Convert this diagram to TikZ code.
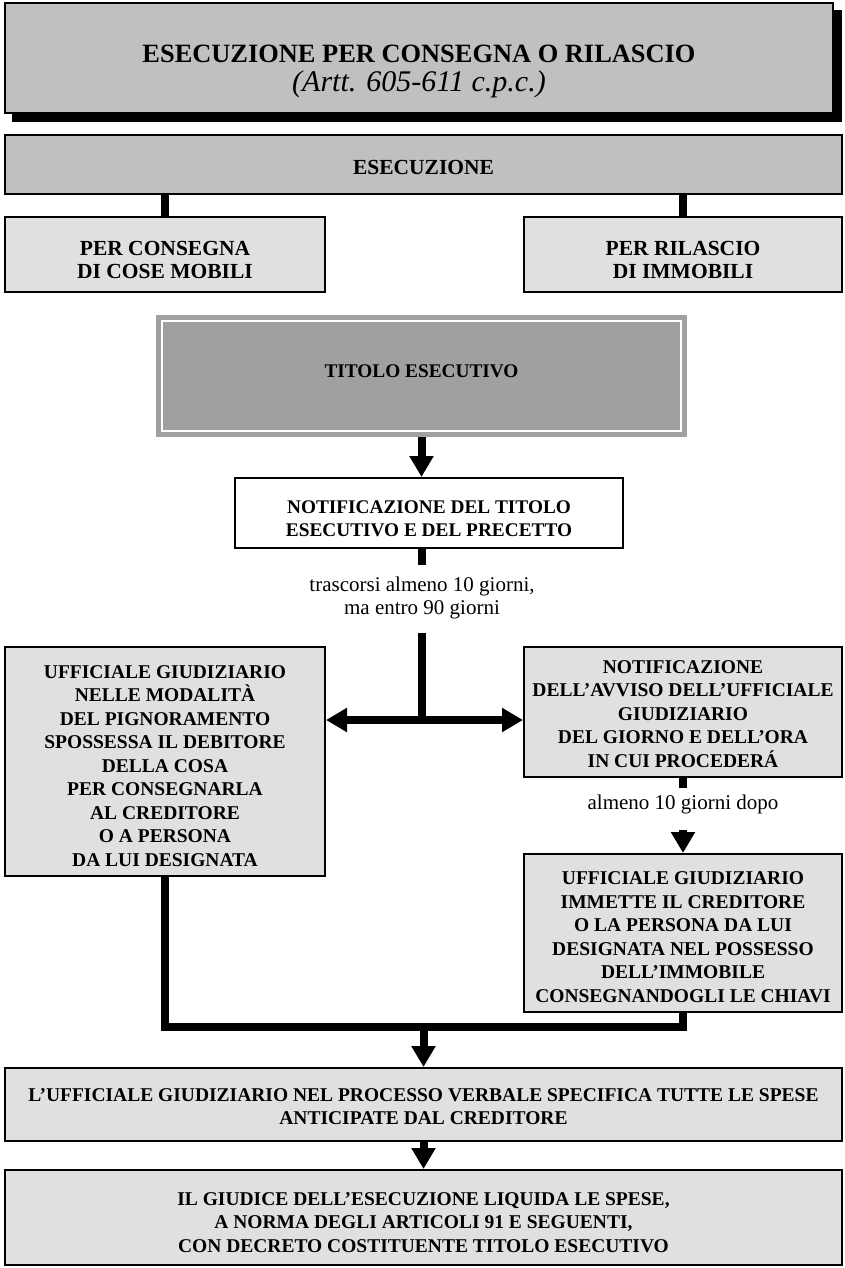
\documentclass[tikz,border=0pt]{standalone}
\usepackage{fontspec}
\setmainfont{Liberation Serif}
\usetikzlibrary{arrows.meta,backgrounds}
\definecolor{gC}{HTML}{C0C0C0}
\definecolor{gL}{HTML}{E0E0E0}
\definecolor{gT}{HTML}{A0A0A0}
\newcommand\myfttitle{\fontsize{26.4}{27}\selectfont}
\newcommand\myftbig{\fontsize{21.5}{22.5}\selectfont\bfseries}
\newcommand\myftmid{\fontsize{19.3}{23}\selectfont\bfseries}
\newcommand\myftbody{\fontsize{19.5}{23.5}\selectfont\bfseries}
\newcommand\myftnote{\fontsize{21}{23.5}\selectfont}
% #1 extra height on top, #2 extra depth at bottom, #3 lines
\newcommand\mypd[3]{\raisebox{0pt}[\dimexpr\height+#1\relax][\dimexpr\depth+#2\relax]{\begin{tabular}{@{}c@{}}#3\end{tabular}}}
\begin{document}
\begin{tikzpicture}[x=1pt,y=-1pt,
  box/.style={draw=black, line width=2pt, align=center, inner sep=2pt},
  link/.style={line width=8pt},
  flow/.style={line width=8pt, -{Triangle[width=23pt,length=21pt]}},
  both/.style={line width=8pt, {Triangle[width=23pt,length=21pt]}-{Triangle[width=23pt,length=21pt]}},
  note/.style={font=\myftnote, align=center, inner sep=0pt}]
\useasboundingbox (0,0) rectangle (844,1268);

% title
\node[box, fill=gC, minimum width=828pt, minimum height=110pt, font=\myfttitle] (title) at (419,58)
  {\mypd{28pt}{0pt}{\bfseries ESECUZIONE PER CONSEGNA O RILASCIO\\ \fontsize{30}{27}\selectfont\itshape (Artt. 605-611 c.p.c.)}};
\begin{scope}[on background layer]
  \fill[black] ([shift={(8,8)}]title.north west) rectangle ([shift={(8,8)}]title.south east);
\end{scope}

\node[box, fill=gC, minimum width=837pt, minimum height=59pt, font=\myftbig] (exec) at (423.5,164.5) {\mypd{12pt}{0pt}{ESECUZIONE}};
\node[box, fill=gL, minimum width=320pt, minimum height=75pt, font=\myftbig] (cons) at (165,254.5) {\mypd{16pt}{0pt}{PER CONSEGNA\\DI COSE MOBILI}};
\node[box, fill=gL, minimum width=318pt, minimum height=75pt, font=\myftbig] (ril) at (683,254.5) {\mypd{16pt}{0pt}{PER RILASCIO\\DI IMMOBILI}};

\node[fill=gT, minimum width=531pt, minimum height=122pt, inner sep=0pt, font=\myftmid] (tit) at (421.5,376) {\mypd{0pt}{6pt}{TITOLO ESECUTIVO}};
\draw[white, line width=2.5pt] ([shift={(6,6)}]tit.north west) rectangle ([shift={(-6,-6)}]tit.south east);

\node[box, fill=white, minimum width=388pt, minimum height=70pt, font=\myftmid] (notif) at (429,513) {\mypd{14pt}{0pt}{NOTIFICAZIONE DEL TITOLO\\ESECUTIVO E DEL PRECETTO}};

\node[note] (lab1) at (422,598) {trascorsi almeno 10 giorni,\\ma entro 90 giorni};

\node[box, fill=gL, minimum width=320pt, minimum height=229pt, font=\myftbody] (left) at (165,761.5)
  {\mypd{12pt}{0pt}{UFFICIALE GIUDIZIARIO\\NELLE MODALITÀ\\DEL PIGNORAMENTO\\SPOSSESSA IL DEBITORE\\DELLA COSA\\PER CONSEGNARLA\\AL CREDITORE\\O A PERSONA\\DA LUI DESIGNATA}};
\node[box, fill=gL, minimum width=318pt, minimum height=130pt, font=\myftbody] (rup) at (683,712)
  {\mypd{7pt}{0pt}{NOTIFICAZIONE\\DELL’AVVISO DELL’UFFICIALE\\GIUDIZIARIO\\DEL GIORNO E DELL’ORA\\IN CUI PROCEDERÁ}};
\node[note] (lab2) at (683,804) {almeno 10 giorni dopo};
\node[box, fill=gL, minimum width=318pt, minimum height=158pt, font=\myftbody] (rlow) at (683,933)
  {\mypd{12pt}{0pt}{UFFICIALE GIUDIZIARIO\\IMMETTE IL CREDITORE\\O LA PERSONA DA LUI\\DESIGNATA NEL POSSESSO\\DELL’IMMOBILE\\CONSEGNANDOGLI LE CHIAVI}};

\node[box, fill=gL, minimum width=837pt, minimum height=73pt, font=\myftbody] (sp) at (423.5,1104.5)
  {\mypd{8pt}{0pt}{L’UFFICIALE GIUDIZIARIO NEL PROCESSO VERBALE SPECIFICA TUTTE LE SPESE\\ANTICIPATE DAL CREDITORE}};
\node[box, fill=gL, minimum width=837pt, minimum height=95pt, font=\myftbody] (giud) at (423.5,1217.5)
  {\mypd{13pt}{0pt}{IL GIUDICE DELL’ESECUZIONE LIQUIDA LE SPESE,\\A NORMA DEGLI ARTICOLI 91 E SEGUENTI,\\CON DECRETO COSTITUENTE TITOLO ESECUTIVO}};

% coordinates
\coordinate (c1) at (422,565);
\coordinate (c2) at (422,633);
\coordinate (j) at (422,720);
\coordinate (b1) at (683,788);
\coordinate (b2) at (683,830);
\coordinate (m) at (423.5,1027);

% connectors
\draw[link] (exec.south -| cons.north) -- (cons.north);
\draw[link] (exec.south -| ril.north) -- (ril.north);
\draw[flow] (tit.south) -- (tit.south |- notif.north);
\draw[link] (notif.south -| c1) -- (c1);
\draw[link] (c2) -- (j);
\draw[both] (j -| left.east) -- (j -| rup.west);
\draw[link] (rup.south) -- (b1);
\draw[flow] (b2) -- (rlow.north);
\draw[link] (left.south) |- (m) -| (rlow.south);
\draw[flow] (m) -- (sp.north);
\draw[flow] (sp.south) -- (giud.north);
\end{tikzpicture}
\end{document}
